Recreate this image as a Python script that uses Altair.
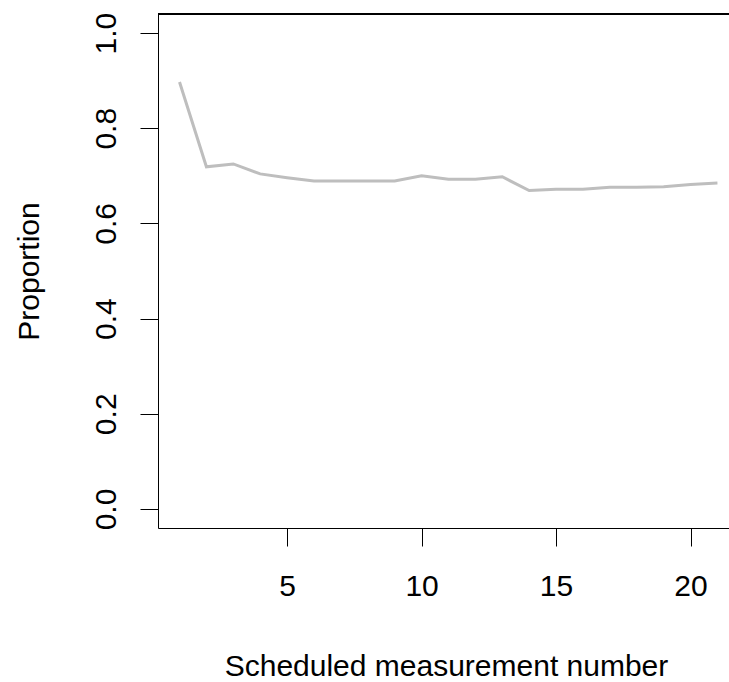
import altair as alt
import pandas as pd

measurement = list(range(1, 22))
proportion = [0.897, 0.719, 0.725, 0.704, 0.696, 0.689, 0.689, 0.689, 0.689,
              0.700, 0.693, 0.693, 0.698, 0.669, 0.672, 0.672, 0.676, 0.676,
              0.677, 0.682, 0.685]
x_ticks = [5, 10, 15, 20]
y_ticks = [0.0, 0.2, 0.4, 0.6, 0.8, 1.0]

df = pd.DataFrame({"x": measurement, "y": proportion})

W, H = 571, 514
FONT = "Liberation Sans"

line = alt.Chart(df).mark_line(color="#bebebe", strokeWidth=3, clip=True).encode(
    x=alt.X("x:Q",
            scale=alt.Scale(domain=[0.2, 21.43], nice=False, zero=False),
            axis=alt.Axis(values=x_ticks, title="Scheduled measurement number",
                          grid=False, tickSize=18, labelPadding=49,
                          labelBaseline="alphabetic", titleBaseline="alphabetic",
                          titleX=288, titleY=147, titleAnchor="middle",
                          labelFlush=False)),
    y=alt.Y("y:Q",
            scale=alt.Scale(domain=[-0.04, 1.04], nice=False, zero=False),
            axis=alt.Axis(values=y_ticks, format=".1f", title="Proportion",
                          grid=False, tickSize=18, labelAngle=270,
                          labelAlign="center", labelBaseline="alphabetic",
                          labelPadding=25, titleAngle=270,
                          titleBaseline="alphabetic", titleX=-120,
                          titleY=257, titleAlign="center", labelFlush=False)),
)

top = alt.Chart(df).mark_rule(color="black", strokeWidth=1).encode(
    x=alt.value(0), x2=alt.value(W), y=alt.value(0)
)

chart = alt.layer(line, top).properties(
    width=W, height=H,
    autosize=alt.AutoSizeParams(type="none"),
    padding={"left": 158, "top": 14, "right": 0, "bottom": 154},
).configure_view(stroke=None).configure_axis(
    domainColor="black", tickColor="black", domainWidth=1, tickWidth=1,
    labelFont=FONT, titleFont=FONT, labelFontSize=30, titleFontSize=30,
    labelColor="black", titleColor="black", titleFontWeight="normal",
)

chart.save("out.html", embed_options={"renderer": "svg", "actions": False})
